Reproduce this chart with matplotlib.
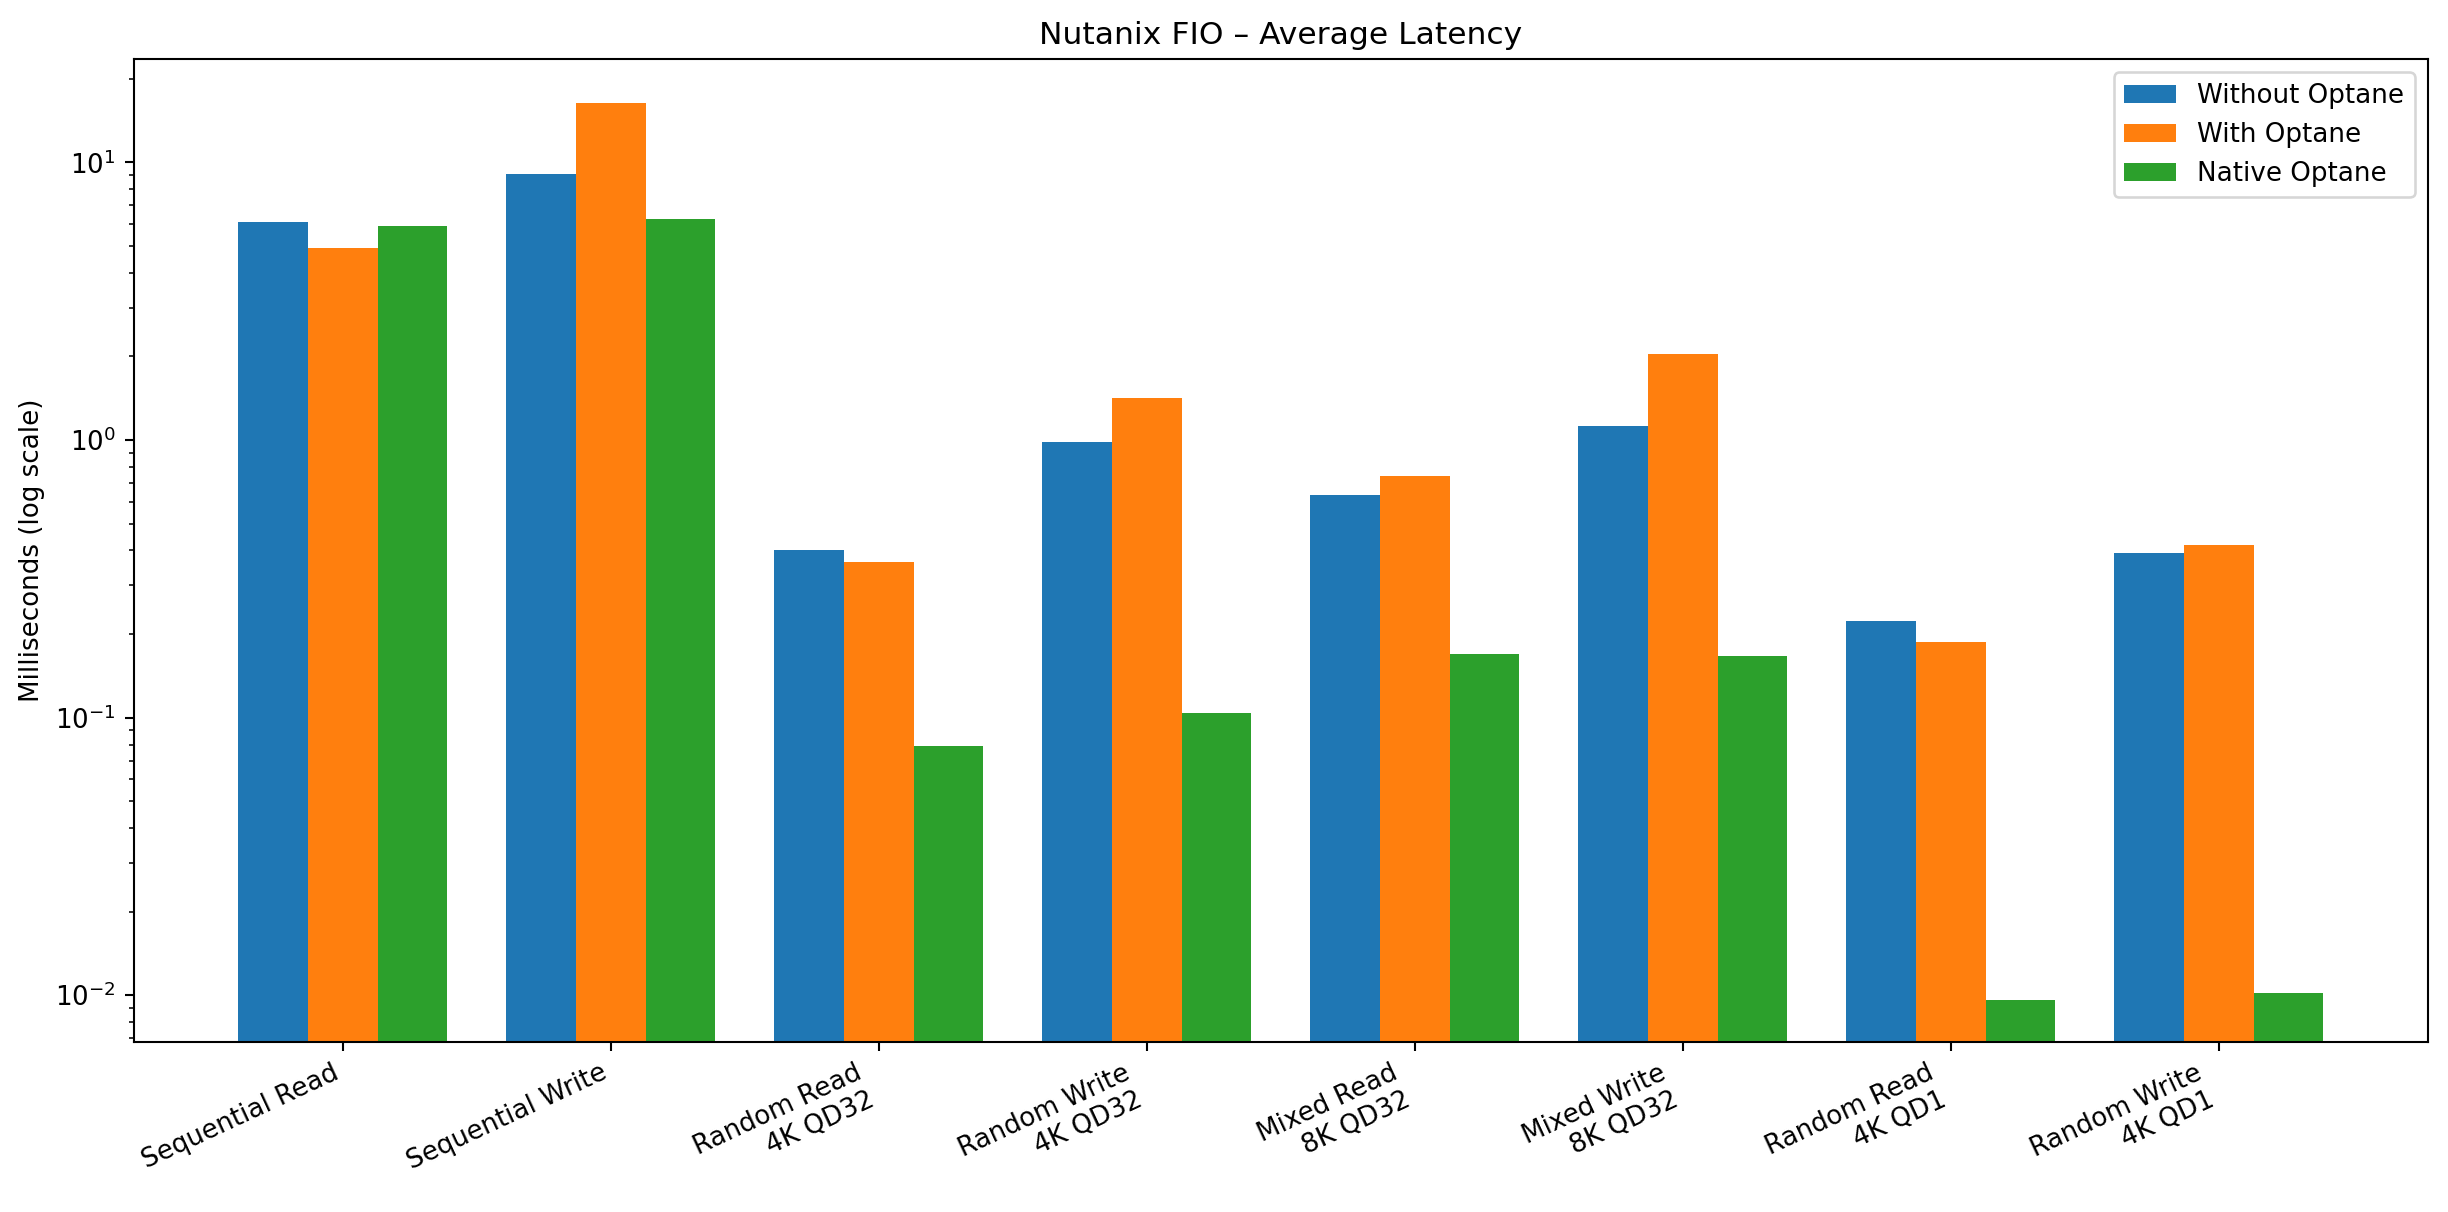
import matplotlib
matplotlib.use("Agg")
import matplotlib.pyplot as plt
import numpy as np

categories = ["Sequential Read", "Sequential Write", "Random Read\n4K QD32", "Random Write\n4K QD32",
              "Mixed Read\n8K QD32", "Mixed Write\n8K QD32", "Random Read\n4K QD1", "Random Write\n4K QD1"]
without_optane = [6.1, 9.1, 0.40, 0.985, 0.635, 1.12, 0.222, 0.393]
with_optane = [4.9, 16.4, 0.364, 1.42, 0.742, 2.04, 0.188, 0.42]
native_optane = [5.9, 6.27, 0.079, 0.1035, 0.17, 0.167, 0.0096, 0.0102]
series_names = ["Without Optane", "With Optane", "Native Optane"]

DPI = 188
fig, ax = plt.subplots(figsize=(2448 / DPI, 1212 / DPI), dpi=DPI)
x = np.arange(len(categories))
w = 0.26
for i, (vals, name) in enumerate(zip([without_optane, with_optane, native_optane], series_names)):
    ax.bar(x + (i - 1) * w, vals, w, label=name)
ax.set_yscale("log")
ax.set_ylim(0.0068, 23.5)
ax.set_xticks(x)
ax.set_xticklabels(categories, rotation=25, ha="right")
ax.set_ylabel("Milliseconds (log scale)")
ax.set_title("Nutanix FIO – Average Latency")
ax.legend(loc="upper right")
fig.subplots_adjust(left=0.0548, right=0.9917, top=0.951, bottom=0.1405)
fig.savefig("out.png", dpi=DPI)
